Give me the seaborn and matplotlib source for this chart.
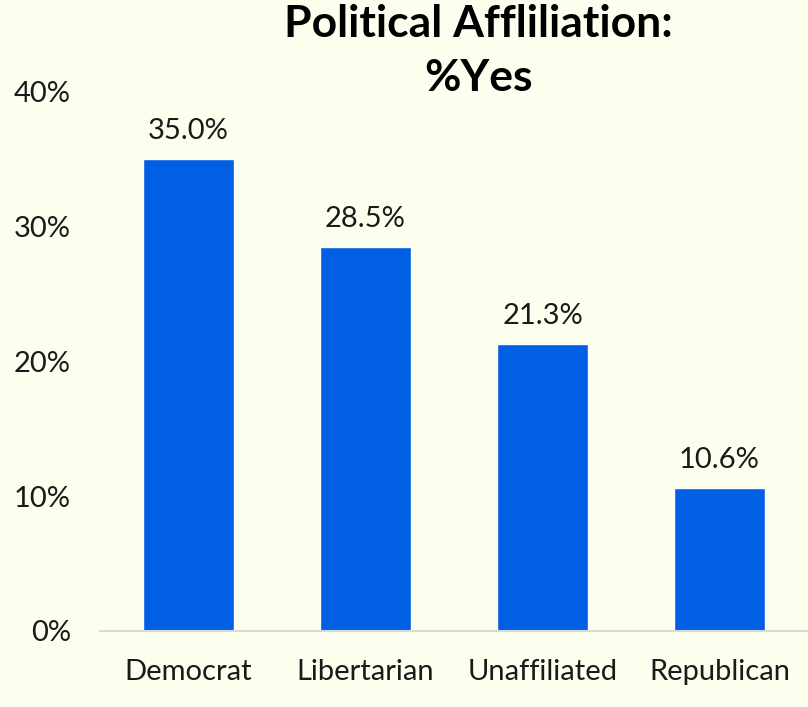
import matplotlib
matplotlib.use("Agg")
import matplotlib.pyplot as plt
import seaborn as sns
import pandas as pd
from matplotlib.ticker import PercentFormatter

categories = ["Democrat", "Libertarian", "Unaffiliated", "Republican"]
values = [35.0, 28.5, 21.3, 10.6]
labels = ["35.0%", "28.5%", "21.3%", "10.6%"]
yticks = [0, 10, 20, 30, 40]

bg = "#FCFEEE"
bar_color = "#005FE3"

sns.set_theme(style="white")
plt.rcParams['font.family'] = ['Lato', 'DejaVu Sans']

fig = plt.figure(figsize=(8.08, 7.07), dpi=100, facecolor=bg)
ax = fig.add_axes([0.1238, 0.1075, 0.8762, 0.7624], facecolor=bg)

df = pd.DataFrame({"cat": categories, "val": values})
sns.barplot(data=df, x="cat", y="val", color=bar_color, saturation=1, width=0.51, ax=ax)

ax.set_ylim(0, 40)
ax.set_xlim(-0.5, 3.5)
ax.set_yticks(yticks)
ax.yaxis.set_major_formatter(PercentFormatter(decimals=0))
ax.set_xlabel("")
ax.set_ylabel("")
for s in ["top", "right", "left"]:
    ax.spines[s].set_visible(False)
ax.spines["bottom"].set_color("#D9D9D9")
ax.spines["bottom"].set_linewidth(1.5)
ax.tick_params(axis="both", length=0, labelsize=21, colors="#1a1a1a")
ax.tick_params(axis="y", pad=21)
ax.tick_params(axis="x", pad=20)

for p, lab in zip(ax.patches, labels):
    ax.annotate(lab, (p.get_x() + p.get_width() / 2, p.get_height()),
                xytext=(0, 11), textcoords="offset points", ha="center", va="bottom",
                fontsize=21, color="#1a1a1a")

fig.text(0.592, 0.995, "Political Affliliation:\n%Yes", ha="center", va="top",
         fontsize=32, fontweight="bold", color="black", linespacing=1.45)

fig.savefig("out.png", dpi=100, facecolor=bg)
